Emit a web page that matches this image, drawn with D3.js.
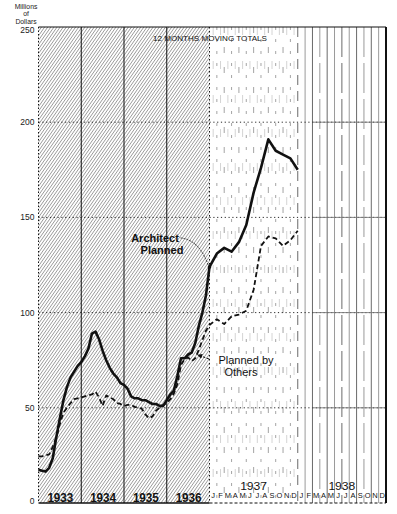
<!DOCTYPE html>
<html>
<head>
<meta charset="utf-8">
<script src="https://cdn.jsdelivr.net/npm/d3@7"></script>
<style>
  html, body { margin: 0; padding: 0; background: #fff; }
  svg { display: block; font-family: "Liberation Sans", Arial, sans-serif; }
</style>
</head>
<body>
<svg id="chart" width="397" height="514"></svg>
<script>
// Year blocks along the bottom; 1933-1936 are compressed, 1937-1938 are shown by month.
const compressedYears = ["1933", "1934", "1935", "1936"];
const monthlyYears = ["1937", "1938"];
const monthLetters = ["J", "F", "M", "A", "M", "J", "J", "A", "S", "O", "N", "D"];
const yTicks = [0, 50, 100, 150, 200, 250];
const yTickLabels = ["0", "50", "100", "150", "200", "250"];

// 12-month moving totals, millions of dollars, month-end values Dec 1932 – Dec 1937.
const architectPlanned = [
  17.5, 17, 16.5, 18.5, 23.5, 34.5, 44.5, 54, 61, 66, 69, 72,
  74, 77, 81, 89, 90, 86, 80, 75, 71, 68, 66, 63,
  62, 60, 56, 55, 55, 54, 54, 53, 52, 52, 51, 51,
  54, 57, 59, 67, 76, 76, 78, 79, 84, 93, 100, 109,
  124, 131, 134, 132, 137, 146, 163, 176, 191, 185, 183, 181, 175
];
const plannedByOthers = [
  24.5, 24.5, 25, 25.5, 29.5, 34.5, 41.5, 47.5, 50, 52.5, 54.5, 55,
  55.5, 56, 56.5, 57, 58.5, 55.5, 51, 56.5, 55.5, 54.5, 52.5, 52,
  51, 51.5, 51.5, 50.5, 50, 49.5, 46.5, 44.5, 45.5, 48.5, 50, 51.5,
  52.5, 54.5, 57.5, 62.5, 72.5, 75.5, 76.5, 74.5, 76, 80.5, 85.5, 90.5,
  93.5, 96.5, 94, 98, 99, 101, 112, 135, 140, 139, 135, 138, 143
];

(function draw() {
  const svg = d3.select("#chart");

  // Month index 0 = start of 1933; 48 = start of 1937; 72 = end of 1938.
  const x = d3.scaleLinear().domain([0, 48, 72]).range([38.5, 209.5, 386]);
  const y = d3.scaleLinear().domain([0, 250]).range([503, 27]);

  const xL = x(0), xM = x(48), xR = x(72), yT = y(250), yB = y(0);

  const defs = svg.append("defs");
  defs.append("clipPath").attr("id", "early")
    .append("rect")
    .attr("x", xL).attr("y", yT)
    .attr("width", xM - xL).attr("height", yB - yT);

  const marker = defs.append("marker")
    .attr("id", "arrow")
    .attr("viewBox", "0 0 6 6")
    .attr("refX", 5).attr("refY", 3)
    .attr("markerWidth", 5).attr("markerHeight", 5)
    .attr("orient", "auto");
  marker.append("path").attr("d", "M0,0 L6,3 L0,6 Z").attr("fill", "#111");

  // Diagonal hatching over the compressed years
  const h = yB - yT, slope = 0.7, step = 3.1;
  const hatchStarts = d3.range(xL - h * slope, xM + 2, step);
  svg.append("g")
    .attr("clip-path", "url(#early)")
    .selectAll("line")
    .data(hatchStarts)
    .join("line")
    .attr("x1", d => d).attr("y1", yB)
    .attr("x2", d => d + h * slope).attr("y2", yT)
    .attr("stroke", "#6e6e6e")
    .attr("stroke-width", 0.7);

  // Monthly rules across 1937-1938
  svg.append("g").selectAll("line")
    .data(d3.range(49, 72))
    .join("line")
    .attr("x1", d => x(d)).attr("x2", d => x(d))
    .attr("y1", yT).attr("y2", yB)
    .attr("stroke", d => d < 60 ? "#9a9a9a" : (d % 2 ? "#9a9a9a" : "#6a6a6a"))
    .attr("stroke-width", d => d < 60 ? 0.9 : 1)
    .attr("stroke-dasharray", d => d < 60 ? (d % 2 ? "3,9" : "6,14") : (d === 60 ? "10,6" : (d % 3 === 0 ? "30,6" : null)));

  // faint half-month streaks in 1937
  svg.append("g").selectAll("line")
    .data(d3.range(48.5, 60, 1))
    .join("line")
    .attr("x1", d => x(d)).attr("x2", d => x(d))
    .attr("y1", yT).attr("y2", yB)
    .attr("stroke", "#d4d4d4")
    .attr("stroke-width", 1)
    .attr("stroke-dasharray", "8,26");

  // Horizontal gridlines
  const grid = svg.append("g");
  grid.selectAll("line.dot")
    .data(yTicks.slice(1, 5))
    .join("line")
    .attr("class", "dot")
    .attr("x1", xL).attr("x2", xR)
    .attr("y1", d => y(d)).attr("y2", d => y(d))
    .attr("stroke", "#111").attr("stroke-width", 0.9)
    .attr("stroke-dasharray", "1.2,2.6");
  grid.selectAll("line.solid")
    .data(yTicks.slice(1, 5))
    .join("line")
    .attr("class", "solid")
    .attr("x1", x(62)).attr("x2", xR)
    .attr("y1", d => y(d)).attr("y2", d => y(d))
    .attr("stroke", "#777").attr("stroke-width", 0.9);

  // Year dividers
  svg.append("g").selectAll("line")
    .data([12, 24, 36])
    .join("line")
    .attr("x1", d => x(d)).attr("x2", d => x(d))
    .attr("y1", yT).attr("y2", yB)
    .attr("stroke", "#111").attr("stroke-width", 1);
  svg.append("line")
    .attr("x1", xM).attr("x2", xM).attr("y1", yT).attr("y2", yB)
    .attr("stroke", "#111").attr("stroke-width", 1)
    .attr("stroke-dasharray", "1.5,2.5");

  // Frame
  svg.append("line").attr("x1", xL).attr("x2", xR).attr("y1", yT).attr("y2", yT)
    .attr("stroke", "#111").attr("stroke-width", 1.2);
  svg.append("line").attr("x1", xL).attr("x2", xL).attr("y1", yT).attr("y2", yB)
    .attr("stroke", "#111").attr("stroke-width", 1).attr("stroke-dasharray", "1.5,2");
  svg.append("line").attr("x1", xR).attr("x2", xR).attr("y1", yT).attr("y2", yB)
    .attr("stroke", "#111").attr("stroke-width", 2);
  svg.append("line").attr("x1", xL).attr("x2", xM).attr("y1", yB).attr("y2", yB)
    .attr("stroke", "#111").attr("stroke-width", 1.3);
  svg.append("line").attr("x1", xM).attr("x2", xR).attr("y1", yB).attr("y2", yB)
    .attr("stroke", "#111").attr("stroke-width", 1.2).attr("stroke-dasharray", "3,2");

  // Y axis labels
  svg.append("g").selectAll("text")
    .data(yTicks)
    .join("text")
    .attr("x", 34.5)
    .attr("y", d => y(d) + (d === 250 ? 5.5 : d === 0 ? 0.5 : 3))
    .attr("text-anchor", "end")
    .attr("font-size", 8.5)
    .attr("fill", "#222")
    .text((d, i) => yTickLabels[i]);

  // Unit caption
  svg.append("g").selectAll("text")
    .data(["Millions", "of", "Dollars"])
    .join("text")
    .attr("x", 26)
    .attr("y", (d, i) => [8.5, 15.5, 23.5][i])
    .attr("text-anchor", "middle")
    .attr("font-size", 6.8)
    .attr("fill", "#222")
    .text(d => d);

  svg.append("text")
    .attr("x", 210).attr("y", 40.5)
    .attr("text-anchor", "middle")
    .attr("font-size", 7.2)
    .attr("textLength", 114).attr("lengthAdjust", "spacingAndGlyphs")
    .attr("fill", "#111")
    .text("12 MONTHS MOVING TOTALS");

  // Year labels
  svg.append("g").selectAll("text")
    .data(compressedYears)
    .join("text")
    .attr("x", (d, i) => x(i * 12 + 6) + 0.5)
    .attr("y", 502)
    .attr("text-anchor", "middle")
    .attr("font-size", 13.5)
    .attr("font-weight", "bold")
    .attr("textLength", 26).attr("lengthAdjust", "spacingAndGlyphs")
    .attr("fill", "#111")
    .text(d => d);

  svg.append("g").selectAll("text")
    .data(monthlyYears)
    .join("text")
    .attr("x", (d, i) => x(48 + i * 12 + 6))
    .attr("y", 490)
    .attr("text-anchor", "middle")
    .attr("font-size", 11.5)
    .attr("textLength", 27).attr("lengthAdjust", "spacingAndGlyphs")
    .attr("fill", "#111")
    .text(d => d);

  svg.append("g").selectAll("text")
    .data(d3.range(48, 72))
    .join("text")
    .attr("x", d => x(d + 0.5))
    .attr("y", 497.5)
    .attr("text-anchor", "middle")
    .attr("font-size", 7.5)
    .attr("fill", "#111")
    .text(d => monthLetters[d % 12]);

  // Series lines
  const line = d3.line()
    .x((d, i) => x(i))
    .y(d => y(d));

  svg.append("path")
    .datum(plannedByOthers)
    .attr("d", line)
    .attr("fill", "none")
    .attr("stroke", "#111")
    .attr("stroke-width", 1.8)
    .attr("stroke-dasharray", "5,3")
    .attr("stroke-linejoin", "round");

  svg.append("path")
    .datum(architectPlanned)
    .attr("d", line)
    .attr("fill", "none")
    .attr("stroke", "#111")
    .attr("stroke-width", 2.6)
    .attr("stroke-linejoin", "round");

  // Annotation: Architect Planned
  const ax = x(48), ay = y(architectPlanned[48]);
  const ap = d3.path();
  ap.moveTo(ax - 29, ay - 29);
  ap.quadraticCurveTo(ax - 10, ay - 27, ax - 1, ay - 1);
  svg.append("path")
    .attr("d", ap.toString())
    .attr("fill", "none")
    .attr("stroke", "#222")
    .attr("stroke-width", 0.9)
    .attr("stroke-dasharray", "2,1");
  svg.append("circle").attr("cx", ax).attr("cy", ay).attr("r", 1.8).attr("fill", "#111");

  svg.append("g").selectAll("text")
    .data(["Architect", "Planned"])
    .join("text")
    .attr("x", (d, i) => [155, 162][i])
    .attr("y", (d, i) => [242, 253.5][i])
    .attr("text-anchor", "middle")
    .attr("font-size", 11)
    .attr("font-weight", "bold")
    .attr("fill", "#111")
    .text(d => d);

  // Annotation: Planned by Others
  const ox = x(44.5), oy = y((plannedByOthers[44] + plannedByOthers[45]) / 2);
  svg.append("line")
    .attr("x1", ox + 12).attr("y1", oy + 5)
    .attr("x2", ox + 1).attr("y2", oy + 1)
    .attr("stroke", "#111").attr("stroke-width", 1)
    .attr("stroke-dasharray", "2.5,1.5")
    .attr("marker-end", "url(#arrow)");

  svg.append("g").selectAll("text")
    .data(["Planned by", "Others"])
    .join("text")
    .attr("x", (d, i) => [246, 241][i])
    .attr("y", (d, i) => [364, 375.5][i])
    .attr("text-anchor", "middle")
    .attr("font-size", 11)
    .attr("fill", "#111")
    .text(d => d);
})();
</script>
</body>
</html>
